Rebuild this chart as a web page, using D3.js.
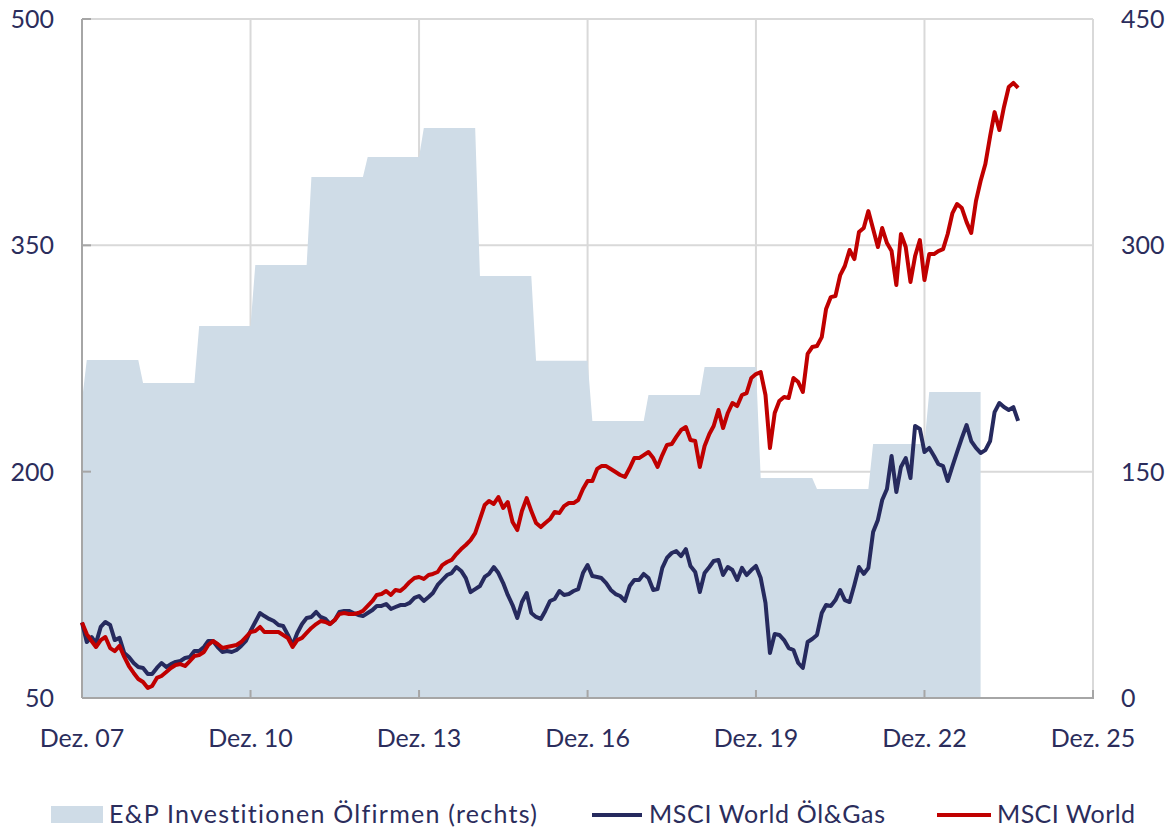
<!DOCTYPE html>
<html>
<head>
<meta charset="utf-8">
<script src="https://cdn.jsdelivr.net/npm/d3@7/dist/d3.min.js"></script>
<style>
    body { margin: 0; background: #ffffff; }
    svg text { font-family: Lato, "Noto Sans", sans-serif; fill: #2b2d5c; font-variant-ligatures: none; }
</style>
</head>
<body>
<div id="chart"></div>
<script>
// monthly index values, first point = Dez. 07 (=100)
const startMonth = new Date(2007, 11, 1);

const msciOilGas = [
    100, 87.1, 90.4, 86.4, 97.1, 100.4, 98.4, 88.4, 89.8, 79.8, 77.2, 73.2,
    70.5, 69.9, 65.9, 65.9, 69.9, 73.2, 70.5, 72.5, 73.9, 74.5, 76.5, 77.2,
    81.1, 81.1, 83.8, 87.8, 87.8, 83.8, 80.5, 81.1, 80.5, 81.8, 84.5, 87.8,
    94.4, 100.4, 106.3, 104.3, 102.4, 101.0, 98.4, 97.7, 91.8, 85.1, 93.1, 99.0,
    103.0, 103.7, 107.0, 103.7, 102.4, 99.0, 101.7, 107.0, 107.7, 107.7, 106.3, 105.0,
    104.3, 106.3, 108.3, 111.0, 111.0, 112.3, 109.0, 110.3, 111.6, 111.6, 113.0, 116.3,
    117.6, 114.3, 116.9, 119.6, 124.9, 128.2, 131.5, 132.8, 136.8, 134.2, 129.5, 120.2,
    122.2, 124.2, 130.2, 132.2, 136.8, 132.8, 126.2, 118.3, 111.6, 103.0, 113.6, 119.6,
    106.3, 103.7, 102.4, 107.7, 114.3, 115.6, 120.9, 118.3, 118.9, 120.9, 122.2, 132.8,
    138.1, 130.8, 130.2, 129.5, 126.2, 121.6, 118.9, 117.6, 114.3, 124.2, 128.2, 128.2,
    132.2, 129.5, 121.6, 122.2, 136.2, 142.8, 146.1, 147.4, 144.1, 148.7, 137.5, 133.5,
    120.2, 132.8, 136.8, 140.8, 141.5, 131.5, 136.8, 134.8, 128.2, 136.2, 131.5, 134.8,
    137.5, 129.5, 113.0, 79.8, 92.4, 91.8, 88.4, 83.1, 81.8, 73.2, 69.9, 87.1,
    89.1, 91.8, 106.3, 111.6, 111.0, 114.9, 121.6, 114.9, 113.6, 124.9, 136.8, 132.2,
    136.2, 160.0, 168.0, 181.2, 188.5, 210.4, 186.5, 203.1, 209.0, 195.8, 230.3, 228.3,
    213.0, 215.7, 210.4, 205.1, 203.7, 193.8, 203.7, 213.0, 222.3, 230.9, 220.3, 215.7,
    212.4, 214.3, 220.3, 239.5, 245.5, 242.8, 240.9, 242.8, 233.6
];

const msciWorld = [
    100, 92.4, 87.8, 83.8, 88.4, 90.4, 83.1, 81.1, 84.5, 77.2, 71.2, 66.6,
    62.6, 60.6, 56.6, 58.0, 63.3, 64.6, 67.2, 69.9, 71.9, 72.5, 71.2, 74.5,
    77.8, 78.5, 80.5, 85.1, 87.8, 85.8, 83.1, 83.8, 84.5, 85.1, 87.1, 90.4,
    93.7, 94.4, 97.1, 93.7, 93.7, 93.7, 93.7, 91.8, 89.8, 83.8, 88.4, 89.8,
    93.1, 96.4, 99.0, 101.0, 100.4, 99.0, 101.7, 105.7, 106.3, 105.7, 105.7, 106.3,
    107.7, 111.0, 114.3, 118.3, 118.9, 120.9, 118.3, 121.6, 120.9, 123.6, 126.9, 129.5,
    130.2, 128.9, 131.5, 132.2, 133.5, 138.1, 140.1, 141.5, 145.4, 148.7, 151.4, 154.7,
    159.3, 168.6, 177.9, 180.6, 178.6, 183.2, 175.9, 179.9, 166.6, 161.3, 173.9, 182.5,
    173.9, 166.0, 163.3, 166.0, 168.6, 173.3, 172.6, 177.2, 179.2, 179.2, 181.2, 188.5,
    193.8, 193.8, 201.8, 203.7, 203.7, 201.8, 199.8, 197.8, 196.5, 202.4, 209.0, 209.0,
    211.0, 213.0, 209.0, 203.1, 211.0, 217.7, 218.3, 223.0, 227.6, 229.6, 221.0, 220.3,
    203.1, 217.0, 225.0, 230.3, 240.9, 228.9, 238.9, 245.5, 243.5, 250.8, 252.1, 262.1,
    264.7, 266.0, 250.8, 215.7, 238.9, 246.8, 249.5, 248.8, 262.1, 259.4, 252.8, 278.0,
    282.6, 283.3, 289.2, 307.8, 315.7, 316.4, 330.3, 336.3, 346.9, 340.9, 358.8, 361.5,
    372.7, 360.8, 348.9, 361.5, 351.5, 346.2, 323.7, 357.5, 348.9, 325.7, 342.9, 353.5,
    327.0, 344.2, 344.2, 346.2, 347.5, 357.5, 371.4, 377.4, 374.7, 365.4, 358.2, 379.4,
    392.6, 403.9, 422.4, 438.3, 426.4, 441.7, 454.9, 457.6, 454.3
];

// E&P Investitionen, yearly (right axis)
const capexYears = [2007, 2008, 2009, 2010, 2011, 2012, 2013, 2014, 2015, 2016, 2017, 2018, 2019, 2020, 2021, 2022, 2023];
const capexValues = [197, 224, 208.7, 246.5, 287, 345.3, 358.5, 377.7, 279.7, 223.5, 183.6, 200.8, 219.4, 145.8, 138.5, 168.3, 202.8];

const xTickYears = [2007, 2010, 2013, 2016, 2019, 2022, 2025];
const leftTicks = [50, 200, 350, 500];
const rightTicks = [0, 150, 300, 450];
const legendLabels = ["E&P Investitionen Ölfirmen (rechts)", "MSCI World Öl&Gas", "MSCI World"];

const colArea = "#cfdce7";
const colOil = "#262a5e";
const colWorld = "#c00000";

function drawChart() {
    const width = 1167, height = 828;
    const left = 82, right = 1093, top = 19, bottom = 698;

    const svg = d3.select("#chart")
        .append("svg")
        .attr("width", width)
        .attr("height", height);

    const x = d3.scaleTime()
        .domain([new Date(2007, 11, 1), new Date(2025, 11, 1)])
        .range([left, right]);
    const yL = d3.scaleLinear().domain([50, 500]).range([bottom, top]);
    const yR = d3.scaleLinear().domain([0, 450]).range([bottom, top]);

    const monthDate = i => d3.timeMonth.offset(startMonth, i);
    const tickDates = xTickYears.map(yr => new Date(yr, 11, 1));

    // grid
    const grid = svg.append("g");
    grid.selectAll(".vg")
        .data(tickDates.slice(1))
        .join("line")
        .attr("x1", d => x(d)).attr("x2", d => x(d))
        .attr("y1", top).attr("y2", bottom)
        .attr("stroke", "#d9d9d9").attr("stroke-width", 2);
    grid.selectAll(".hg")
        .data(leftTicks.slice(1))
        .join("line")
        .attr("x1", left).attr("x2", right)
        .attr("y1", d => yL(d)).attr("y2", d => yL(d))
        .attr("stroke", "#d9d9d9").attr("stroke-width", 2);

    // area: yearly steps, Jan..Dec
    let areaPts = [{date: monthDate(0), v: capexValues[0]}];
    capexYears.forEach(function (yr, i) {
        if (i === 0) return;
        areaPts.push({date: new Date(yr, 0, 1), v: capexValues[i]});
        areaPts.push({date: new Date(yr, 11, 1), v: capexValues[i]});
    });
    svg.append("path")
        .datum(areaPts)
        .attr("fill", colArea)
        .attr("d", d3.area()
            .x(d => x(d.date))
            .y0(yR(0))
            .y1(d => yR(d.v)));

    // axes lines
    svg.append("line")
        .attr("x1", left).attr("x2", left).attr("y1", top).attr("y2", bottom)
        .attr("stroke", "#a6a6a6").attr("stroke-width", 2);
    svg.append("line")
        .attr("x1", left).attr("x2", right + 1).attr("y1", bottom).attr("y2", bottom)
        .attr("stroke", "#a6a6a6").attr("stroke-width", 2);
    svg.selectAll(".xt")
        .data(tickDates.slice(1))
        .join("line")
        .attr("x1", d => x(d)).attr("x2", d => x(d))
        .attr("y1", bottom - 8).attr("y2", bottom)
        .attr("stroke", "#a6a6a6").attr("stroke-width", 2);
    svg.selectAll(".yt")
        .data(leftTicks.slice(1))
        .join("line")
        .attr("x1", left).attr("x2", left + 9)
        .attr("y1", d => yL(d)).attr("y2", d => yL(d))
        .attr("stroke", "#a6a6a6").attr("stroke-width", 2);

    // lines
    const line = d3.line()
        .x((d, i) => x(monthDate(i)))
        .y(d => yL(d));
    svg.append("path")
        .datum(msciOilGas)
        .attr("fill", "none")
        .attr("stroke", colOil)
        .attr("stroke-width", 4)
        .attr("stroke-linejoin", "round")
        .attr("d", line);
    svg.append("path")
        .datum(msciWorld)
        .attr("fill", "none")
        .attr("stroke", colWorld)
        .attr("stroke-width", 4)
        .attr("stroke-linejoin", "round")
        .attr("d", line);

    // tick labels
    svg.selectAll(".yl")
        .data(leftTicks)
        .join("text")
        .attr("x", 54)
        .attr("y", d => yL(d))
        .attr("dy", "0.36em")
        .attr("text-anchor", "end")
        .style("font-size", "25px")
        .text(d => d);
    svg.selectAll(".yr")
        .data(rightTicks)
        .join("text")
        .attr("x", 1121)
        .attr("y", d => yR(d))
        .attr("dy", "0.36em")
        .style("font-size", "25px")
        .text(d => d);
    svg.selectAll(".xl")
        .data(tickDates)
        .join("text")
        .attr("x", d => x(d))
        .attr("y", 747)
        .attr("text-anchor", "middle")
        .style("font-size", "25px")
        .text(d => "Dez. " + d3.timeFormat("%y")(d));

    // legend
    const lg = svg.append("g");
    lg.append("rect")
        .attr("x", 51).attr("y", 806).attr("width", 52).attr("height", 17)
        .attr("fill", colArea);
    lg.append("text").attr("x", 109).attr("y", 823).style("font-size", "25px")
        .attr("textLength", 428).attr("lengthAdjust", "spacing")
        .text(legendLabels[0]);
    lg.append("line")
        .attr("x1", 592).attr("x2", 642).attr("y1", 815).attr("y2", 815)
        .attr("stroke", colOil).attr("stroke-width", 4);
    lg.append("text").attr("x", 649).attr("y", 823).style("font-size", "25px")
        .attr("textLength", 236).attr("lengthAdjust", "spacing")
        .text(legendLabels[1]);
    lg.append("line")
        .attr("x1", 937).attr("x2", 991).attr("y1", 815).attr("y2", 815)
        .attr("stroke", colWorld).attr("stroke-width", 4);
    lg.append("text").attr("x", 997).attr("y", 823).style("font-size", "25px")
        .attr("textLength", 138).attr("lengthAdjust", "spacing")
        .text(legendLabels[2]);
}

drawChart();
</script>
</body>
</html>
